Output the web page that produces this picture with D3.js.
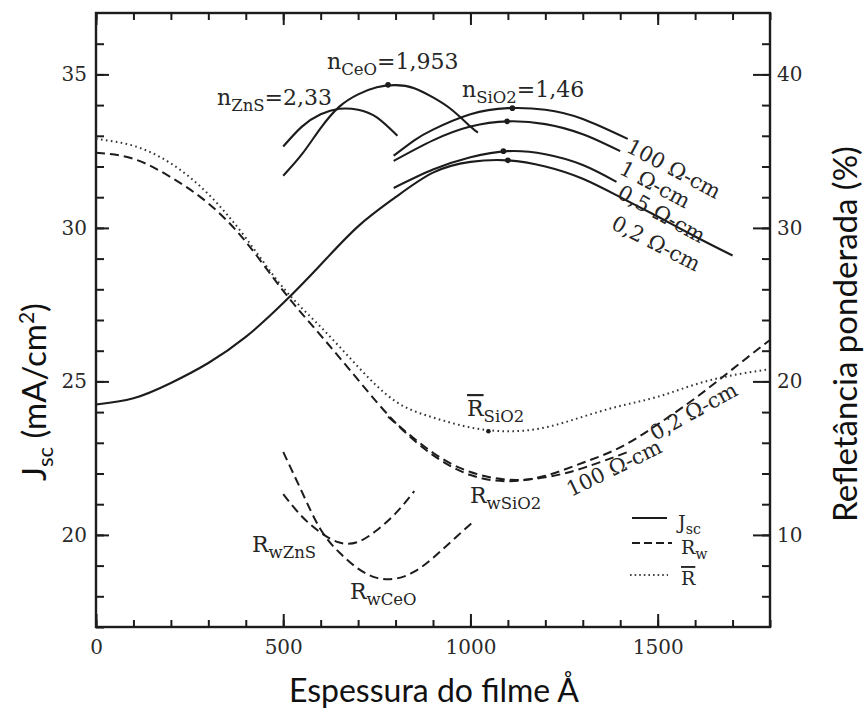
<!DOCTYPE html>
<html>
<head>
<meta charset="utf-8">
<script src="https://cdn.jsdelivr.net/npm/d3@7"></script>
<style>
  body { margin: 0; background: #fff; }
  svg { display: block; }
</style>
</head>
<body>
<svg id="chart" width="868" height="713"></svg>
<script>
// Film thickness (Å) on x; Jsc in mA/cm² on the left axis; weighted reflectance in % on the right axis.
const xDomain = [0, 1800];
const jscDomain = [17, 37];
const reflDomain = [4, 44];
const xTickLabels = [0, 500, 1000, 1500];
const jscTickLabels = [20, 25, 30, 35];
const reflTickLabels = [10, 20, 30, 40];

// Short-circuit current density curves [thickness, Jsc]
const jscSiO2_02 = [[0,24.25],[100,24.45],[200,24.95],[300,25.6],[400,26.45],[500,27.55],[600,28.8],[700,30.05],[800,31.0],[900,31.8],[1000,32.15],[1100,32.2],[1200,32.0],[1300,31.6],[1400,31.0],[1500,30.37],[1600,29.72],[1700,29.1]];
const jscSiO2_05 = [[795,31.3],[900,31.9],[1000,32.3],[1100,32.5],[1200,32.4],[1300,32.05],[1390,31.5]];
const jscSiO2_1 = [[795,32.18],[900,32.85],[1000,33.3],[1100,33.47],[1200,33.38],[1300,33.05],[1400,32.5]];
const jscSiO2_100 = [[795,32.35],[850,32.85],[900,33.2],[1000,33.7],[1100,33.9],[1200,33.85],[1300,33.55],[1420,32.9]];
const jscZnS = [[500,32.65],[550,33.3],[600,33.7],[650,33.88],[700,33.85],[750,33.6],[805,33.0]];
const jscCeO = [[500,31.7],[550,32.4],[600,33.25],[650,33.95],[700,34.35],[750,34.58],[800,34.65],[850,34.55],[900,34.25],[950,33.85],[1000,33.3],[1020,33.1]];

// Weighted reflectance curves [thickness, %]
const rwSiO2_02 = [[0,34.9],[100,34.5],[200,33.3],[300,31.6],[400,29.1],[500,25.9],[600,23.0],[700,20.1],[800,17.3],[900,15.2],[1000,13.9],[1100,13.5],[1200,13.85],[1300,14.7],[1400,15.7],[1500,17.2],[1600,18.9],[1700,20.8],[1800,22.7]];
const rwSiO2_100 = [[780,17.7],[900,15.35],[1000,14.1],[1100,13.6],[1200,13.75],[1300,14.35],[1420,15.4]];
const rBarSiO2 = [[0,35.8],[100,35.35],[200,34.2],[300,32.2],[400,29.35],[500,26.1],[600,23.55],[700,20.95],[800,18.7],[900,17.65],[1000,17.0],[1100,16.75],[1200,17.0],[1300,17.7],[1400,18.4],[1500,19.0],[1600,19.8],[1700,20.4],[1800,20.8]];
const rwZnS = [[500,12.65],[550,11.2],[600,10.15],[650,9.5],[700,9.55],[750,10.3],[800,11.4],[850,12.85]];
const rwCeO = [[500,15.4],[550,12.8],[600,10.35],[650,8.85],[700,7.8],[750,7.2],[800,7.15],[850,7.6],[900,8.5],[950,9.6],[1000,10.7],[1010,10.9]];

// Optimum points marked on the curves
const jscOptima = [[780,34.66],[1100,32.2],[1088,32.5],[1098,33.47],[1112,33.9]];
const rBarOptima = [[1048,16.75]];

const svg = d3.select('#chart');
const F = { l: 96, r: 770, t: 13, b: 627 };
const ink = '#1c1c1c';

const x = d3.scaleLinear().domain(xDomain).range([F.l, F.r]);
const yJ = d3.scaleLinear().domain(jscDomain).range([F.b, F.t]);
const yR = d3.scaleLinear().domain(reflDomain).range([F.b, F.t]);

const serif = 'DejaVu Serif';
const sans = 'Lato, "Open Sans", sans-serif';

// Axes: ticks point into the plot frame
function styleAxis(g, labels) {
  g.select('.domain').remove();
  g.selectAll('line').attr('stroke', ink).attr('stroke-width', 2);
  g.selectAll('text').attr('fill', '#2a2a2a').attr('font-family', serif).attr('font-size', 20);
  if (!labels) g.selectAll('text').remove();
}
const fmt = d3.format('d');
svg.append('g').attr('transform', `translate(0,${F.b})`)
  .call(d3.axisBottom(x).tickValues(d3.range(0, 1801, 100)).tickSize(-7).tickSizeOuter(0))
  .call(g => styleAxis(g, false));
svg.append('g').attr('transform', `translate(0,${F.b})`)
  .call(d3.axisBottom(x).tickValues(xTickLabels).tickFormat(fmt).tickSize(-13).tickSizeOuter(0).tickPadding(13))
  .call(g => styleAxis(g, true));
svg.append('g').attr('transform', `translate(0,${F.t})`)
  .call(d3.axisTop(x).tickValues(d3.range(0, 1801, 100)).tickSize(-7).tickSizeOuter(0))
  .call(g => styleAxis(g, false));
svg.append('g').attr('transform', `translate(0,${F.t})`)
  .call(d3.axisTop(x).tickValues(xTickLabels).tickSize(-12).tickSizeOuter(0))
  .call(g => styleAxis(g, false));
svg.append('g').attr('transform', `translate(${F.l},0)`)
  .call(d3.axisLeft(yJ).tickValues(d3.range(17, 37, 1)).tickSize(-8).tickSizeOuter(0))
  .call(g => styleAxis(g, false));
svg.append('g').attr('transform', `translate(${F.l},0)`)
  .call(d3.axisLeft(yJ).tickValues(jscTickLabels).tickFormat(fmt).tickSize(-13).tickSizeOuter(0).tickPadding(9))
  .call(g => styleAxis(g, true));
svg.append('g').attr('transform', `translate(${F.r},0)`)
  .call(d3.axisRight(yR).tickValues(d3.range(6, 44, 2)).tickSize(-8).tickSizeOuter(0))
  .call(g => styleAxis(g, false));
svg.append('g').attr('transform', `translate(${F.r},0)`)
  .call(d3.axisRight(yR).tickValues(reflTickLabels).tickFormat(fmt).tickSize(-17).tickSizeOuter(0).tickPadding(7))
  .call(g => styleAxis(g, true));

svg.append('rect')
  .attr('x', F.l).attr('y', F.t).attr('width', F.r - F.l).attr('height', F.b - F.t)
  .attr('fill', 'none').attr('stroke', ink).attr('stroke-width', 2.4);

// Curves
const lineJ = d3.line().x(d => x(d[0])).y(d => yJ(d[1])).curve(d3.curveNatural);
const lineR = d3.line().x(d => x(d[0])).y(d => yR(d[1])).curve(d3.curveNatural);

const curves = svg.append('g').attr('fill', 'none').attr('stroke', ink);
[jscSiO2_02, jscSiO2_05, jscSiO2_1, jscSiO2_100, jscZnS, jscCeO].forEach(s =>
  curves.append('path').attr('d', lineJ(s)).attr('stroke-width', 2.1));
[rwSiO2_02, rwSiO2_100, rwZnS, rwCeO].forEach(s =>
  curves.append('path').attr('d', lineR(s)).attr('stroke-width', 2).attr('stroke-dasharray', '9,5'));
curves.append('path').attr('d', lineR(rBarSiO2)).attr('stroke-width', 2)
  .attr('stroke-dasharray', '1.6,3.4').attr('stroke', '#333');

svg.append('g').selectAll('circle').data(jscOptima).join('circle')
  .attr('cx', d => x(d[0])).attr('cy', d => yJ(d[1])).attr('r', 2.8).attr('fill', ink);
svg.append('g').selectAll('circle').data(rBarOptima).join('circle')
  .attr('cx', d => x(d[0])).attr('cy', d => yR(d[1])).attr('r', 2.3).attr('fill', ink);

// Annotation text helper: parts are [text, 'base'|'sub'|'over']
function label(px, py, parts, size, rotate) {
  const t = svg.append('text')
    .attr('transform', `translate(${px},${py})` + (rotate ? ` rotate(${rotate})` : ''))
    .attr('font-family', serif).attr('font-size', size).attr('fill', '#262626');
  let level = 0;
  parts.forEach(([s, kind]) => {
    const target = kind === 'sub' ? 1 : 0;
    const ts = t.append('tspan').text(s)
      .attr('font-size', kind === 'sub' ? size * 0.75 : size);
    if (target !== level) ts.attr('dy', (target - level) * size * 0.28);
    if (kind === 'over') ts.style('text-decoration', 'overline');
    level = target;
  });
  return t;
}

label(217, 105, [['n', 'base'], ['ZnS', 'sub'], ['=2,33', 'base']], 22);
label(327, 69, [['n', 'base'], ['CeO', 'sub'], ['=1,953', 'base']], 22);
label(462, 97, [['n', 'base'], ['SiO2', 'sub'], ['=1,46', 'base']], 22);

label(625, 151, [['100 Ω-cm', 'base']], 21, 28);
label(618, 173, [['1 Ω-cm', 'base']], 21, 28);
label(616, 197, [['0,5 Ω-cm', 'base']], 21, 29);
label(610, 228, [['0,2 Ω-cm', 'base']], 21, 27);

label(571, 497, [['100 Ω-cm', 'base']], 21, -26);
label(655, 441, [['0,2 Ω-cm', 'base']], 21, -29);

label(467, 416, [['R', 'over'], ['SiO2', 'sub']], 22);
label(470, 503, [['R', 'base'], ['wSiO2', 'sub']], 22);
label(252, 552, [['R', 'base'], ['wZnS', 'sub']], 22);
label(350, 599, [['R', 'base'], ['wCeO', 'sub']], 22);

// Legend
const legend = svg.append('g').attr('stroke', ink).attr('stroke-width', 2);
legend.append('line').attr('x1', 632).attr('x2', 667).attr('y1', 518).attr('y2', 518);
legend.append('line').attr('x1', 632).attr('x2', 672).attr('y1', 543).attr('y2', 543).attr('stroke-dasharray', '8,4');
legend.append('line').attr('x1', 630).attr('x2', 668).attr('y1', 575).attr('y2', 575).attr('stroke-dasharray', '1.6,3').attr('stroke', '#444');
label(678, 529, [['J', 'base'], ['sc', 'sub']], 19);
label(681, 554, [['R', 'base'], ['w', 'sub']], 19);
label(681, 585, [['R', 'over']], 19);

// Axis titles
const jTitle = svg.append('text')
  .attr('transform', 'translate(46,392) rotate(-90)')
  .attr('text-anchor', 'middle').attr('font-family', sans).attr('font-size', 33).attr('fill', '#111');
jTitle.append('tspan').text('J');
jTitle.append('tspan').text('sc').attr('font-size', 22).attr('dy', 7);
jTitle.append('tspan').text(' (mA/cm').attr('dy', -7);
jTitle.append('tspan').text('2').attr('font-size', 21).attr('dy', -12);
jTitle.append('tspan').text(')').attr('dy', 12);

svg.append('text')
  .attr('transform', 'translate(857,334) rotate(-90)')
  .attr('text-anchor', 'middle').attr('font-family', sans).attr('font-size', 33).attr('fill', '#111')
  .text('Refletância ponderada (%)');

svg.append('text')
  .attr('x', 434).attr('y', 702)
  .attr('text-anchor', 'middle').attr('font-family', sans).attr('font-size', 32).attr('fill', '#111')
  .text('Espessura do filme Å');
</script>
</body>
</html>
